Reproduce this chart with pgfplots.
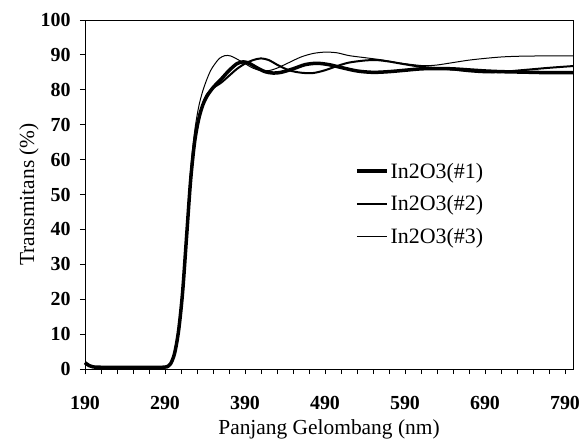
\documentclass[border=0pt]{standalone}
\usepackage{fontspec}
\setmainfont{Liberation Serif}
\usepackage{pgfplots}
\pgfplotsset{compat=1.18}
\begin{document}
\begin{tikzpicture}
\begin{axis}[
  scale only axis, width=488bp, height=349bp,
  xmin=190, xmax=800, ymin=0, ymax=100,
  xtick={190,290,390,490,590,690,790},
  minor x tick num=4,
  ytick={0,10,...,100},
  tick pos=left, tick align=outside,
  major tick length=5bp, minor tick length=5bp,
  tick style={black, line width=0.8bp},
  axis line style={line width=0.9bp},
  /pgf/number format/assume math mode=true,
  ticklabel style={font=\bfseries\fontsize{20}{23}\selectfont},
  xticklabel style={yshift=-19bp},
  yticklabel style={xshift=-6bp},
  xlabel={Panjang Gelombang (nm)},
  ylabel={Transmitans (\%)},
  label style={font=\fontsize{21.5}{24}\selectfont},
  xlabel style={yshift=-3bp},
  ylabel style={yshift=-5bp},
  clip=false,
  legend cell align=left,
  legend style={draw=none, fill=none, at={(0.553,0.597)}, anchor=north west,
    font=\fontsize{22}{24}\selectfont, row sep=12bp, inner sep=0pt},
  legend image code/.code={\draw[#1] (0bp,0bp) -- (30bp,0bp);},
]
\addplot[black, line width=3.5bp, smooth, tension=0.5] coordinates {
(190,1.8)(195,1.0)(200,0.6)(210,0.5)(230,0.5)(250,0.5)(270,0.5)(287,0.5)(292,0.6)(297,1.5)(302,4.5)(307,11)(312,22)(317,38)(322,54)(327,65)(332,71.5)(337,75.5)(342,78)(350,80.6)(360,83)(370,85.5)(380,87.5)(388,88.0)(395,87.6)(405,86.3)(415,85.2)(425,84.8)(435,85.0)(450,86.0)(465,87.2)(480,87.6)(495,87.2)(510,86.4)(530,85.4)(550,85.0)(570,85.2)(590,85.6)(610,86.0)(630,86.1)(650,86.0)(670,85.7)(690,85.4)(710,85.2)(730,85.1)(750,85.0)(770,84.9)(800,84.9)
};
\addlegendentry{In2O3(\#1)}
\addplot[black, line width=2bp, smooth, tension=0.5] coordinates {
(190,1.8)(195,1.0)(200,0.6)(210,0.5)(230,0.5)(250,0.5)(270,0.5)(287,0.5)(292,0.6)(297,1.5)(302,4.5)(307,11)(312,22)(317,38)(322,54)(327,65)(332,71.5)(337,75.5)(342,78.5)(350,80.5)(360,82)(370,84)(380,86)(390,87.5)(400,88.5)(410,89.0)(420,88.5)(430,87.2)(445,85.6)(460,84.9)(475,84.8)(490,85.6)(505,86.8)(520,87.8)(540,88.4)(555,88.5)(570,88.1)(590,87.3)(610,86.6)(630,86.2)(650,85.8)(670,85.3)(690,85.0)(710,85.1)(730,85.5)(750,85.9)(770,86.3)(800,86.8)
};
\addlegendentry{In2O3(\#2)}
\addplot[black, line width=1bp, smooth, tension=0.5] coordinates {
(190,1.8)(195,1.0)(200,0.6)(210,0.5)(230,0.5)(250,0.5)(270,0.5)(287,0.5)(292,0.6)(297,1.5)(302,4.5)(307,11.5)(312,23)(317,40)(322,57)(327,68)(332,75)(337,79.5)(342,82.8)(347,85.5)(352,87.3)(358,89.0)(365,89.8)(372,89.7)(380,88.8)(390,87.5)(400,86.2)(410,85.5)(420,85.5)(430,86.2)(445,87.8)(460,89.4)(475,90.4)(490,90.8)(505,90.6)(520,89.8)(540,89.2)(560,88.6)(580,87.8)(600,87.2)(615,86.9)(630,87.1)(650,87.8)(670,88.5)(690,89.0)(710,89.4)(730,89.6)(760,89.7)(800,89.7)
};
\addlegendentry{In2O3(\#3)}
\coordinate (bl) at (rel axis cs:0,0);
\coordinate (tr) at (rel axis cs:1,1);
\end{axis}
\pgfresetboundingbox
\path[use as bounding box] ([shift={(-85bp,-70bp)}]bl) rectangle ([shift={(9bp,20bp)}]tr);
\end{tikzpicture}
\end{document}
